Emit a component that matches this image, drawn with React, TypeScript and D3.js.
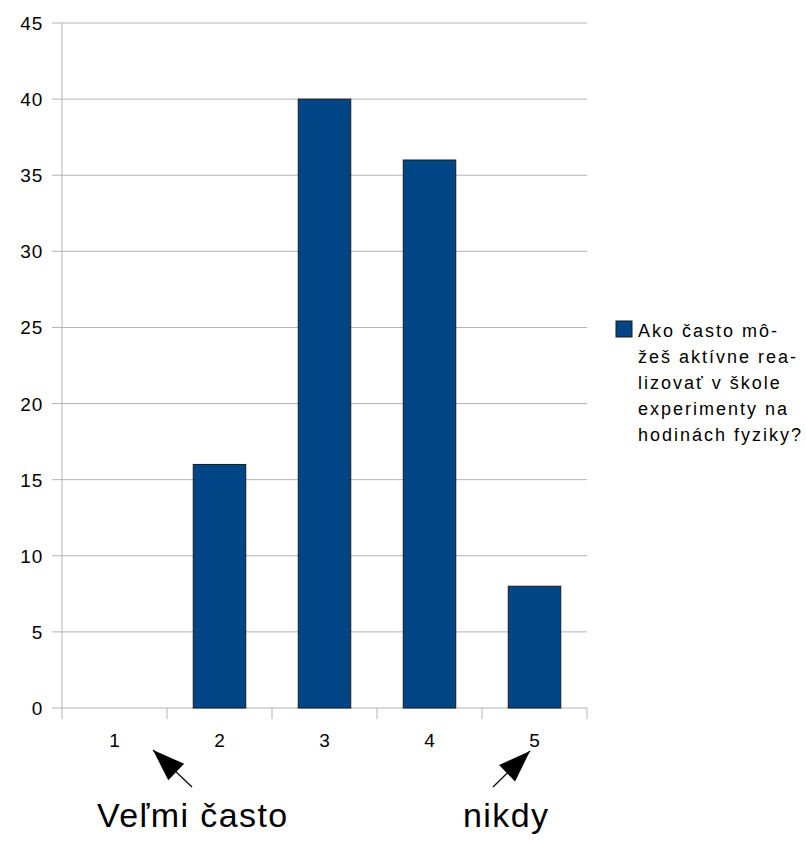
import React from "react";
import * as d3 from "d3";

const categories = ["1", "2", "3", "4", "5"];
const values = [0, 16, 40, 36, 8];
const yTicks = [0, 5, 10, 15, 20, 25, 30, 35, 40, 45];
const legendLines = ["Ako často mô-", "žeš aktívne rea-", "lizovať v škole", "experimenty na", "hodinách fyziky?"];
const annotations = [
  { text: "Veľmi často", x: 97, from: [192, 787], to: [153, 750] },
  { text: "nikdy", x: 463, from: [493, 787], to: [530, 751] },
];

export default function App() {
  const W = 806, H = 842;
  const left = 62, right = 587, top = 23, bottom = 708;
  const x = d3.scaleBand<string>().domain(categories).range([left, right]).paddingInner(0.5).paddingOuter(0.25);
  const xb = d3.scaleBand<string>().domain(categories).range([left, right]);
  const y = d3.scaleLinear().domain([0, 45]).range([bottom, top]);
  const font = "'Liberation Sans', Arial, sans-serif";
  const grid = "#b3b3b3";
  const arrowHead = (from: number[], to: number[]) => {
    const dx = to[0] - from[0], dy = to[1] - from[1];
    const len = Math.hypot(dx, dy);
    const ux = dx / len, uy = dy / len;
    const hl = 32, hw = 11.5;
    const bx = to[0] - ux * hl, by = to[1] - uy * hl;
    const px = -uy, py = ux;
    return `M${to[0]},${to[1]} L${bx + px * hw},${by + py * hw} L${bx - px * hw},${by - py * hw} Z`;
  };
  return (
    <svg width={W} height={H} style={{ position: "absolute", left: 0, top: 0, background: "#fff" }} fontFamily={font}>
      {yTicks.map((t) => (
        <g key={t}>
          <line x1={52} x2={right} y1={y(t)} y2={y(t)} stroke={grid} strokeWidth={1} />
          <text x={43} y={y(t) + 7} textAnchor="end" fontSize={19} letterSpacing={0.8} fill="#000">{t}</text>
        </g>
      ))}
      <line x1={left} x2={left} y1={top} y2={bottom + 11} stroke={grid} strokeWidth={1} />
      {categories.map((c) => (
        <line key={"t" + c} x1={xb(c)! + xb.bandwidth()} x2={xb(c)! + xb.bandwidth()} y1={bottom} y2={bottom + 11} stroke={grid} />
      ))}
      {categories.map((c, i) =>
        values[i] > 0 ? (
          <rect key={"b" + c} x={x(c)!} width={x.bandwidth()} y={y(values[i])} height={y(0) - y(values[i])}
            fill="#004586" stroke="#1a1a1a" strokeWidth={1} />
        ) : null
      )}
      {categories.map((c) => (
        <text key={"l" + c} x={xb(c)! + xb.bandwidth() / 2} y={747} textAnchor="middle" fontSize={19} fill="#000">{c}</text>
      ))}
      <rect x={616} y={321} width={16} height={16} fill="#004586" stroke="#1a1a1a" strokeWidth={1} />
      {legendLines.map((l, i) => (
        <text key={l} x={638} y={337 + i * 26} fontSize={18} letterSpacing={2} fill="#000">{l}</text>
      ))}
      {annotations.map((a) => (
        <g key={a.text}>
          <line x1={a.from[0]} y1={a.from[1]} x2={a.to[0]} y2={a.to[1]} stroke="#000" strokeWidth={1.2} />
          <path d={arrowHead(a.from, a.to)} fill="#000" />
          <text x={a.x} y={827} fontSize={34} letterSpacing={1.4} fill="#000">{a.text}</text>
        </g>
      ))}
    </svg>
  );
}
